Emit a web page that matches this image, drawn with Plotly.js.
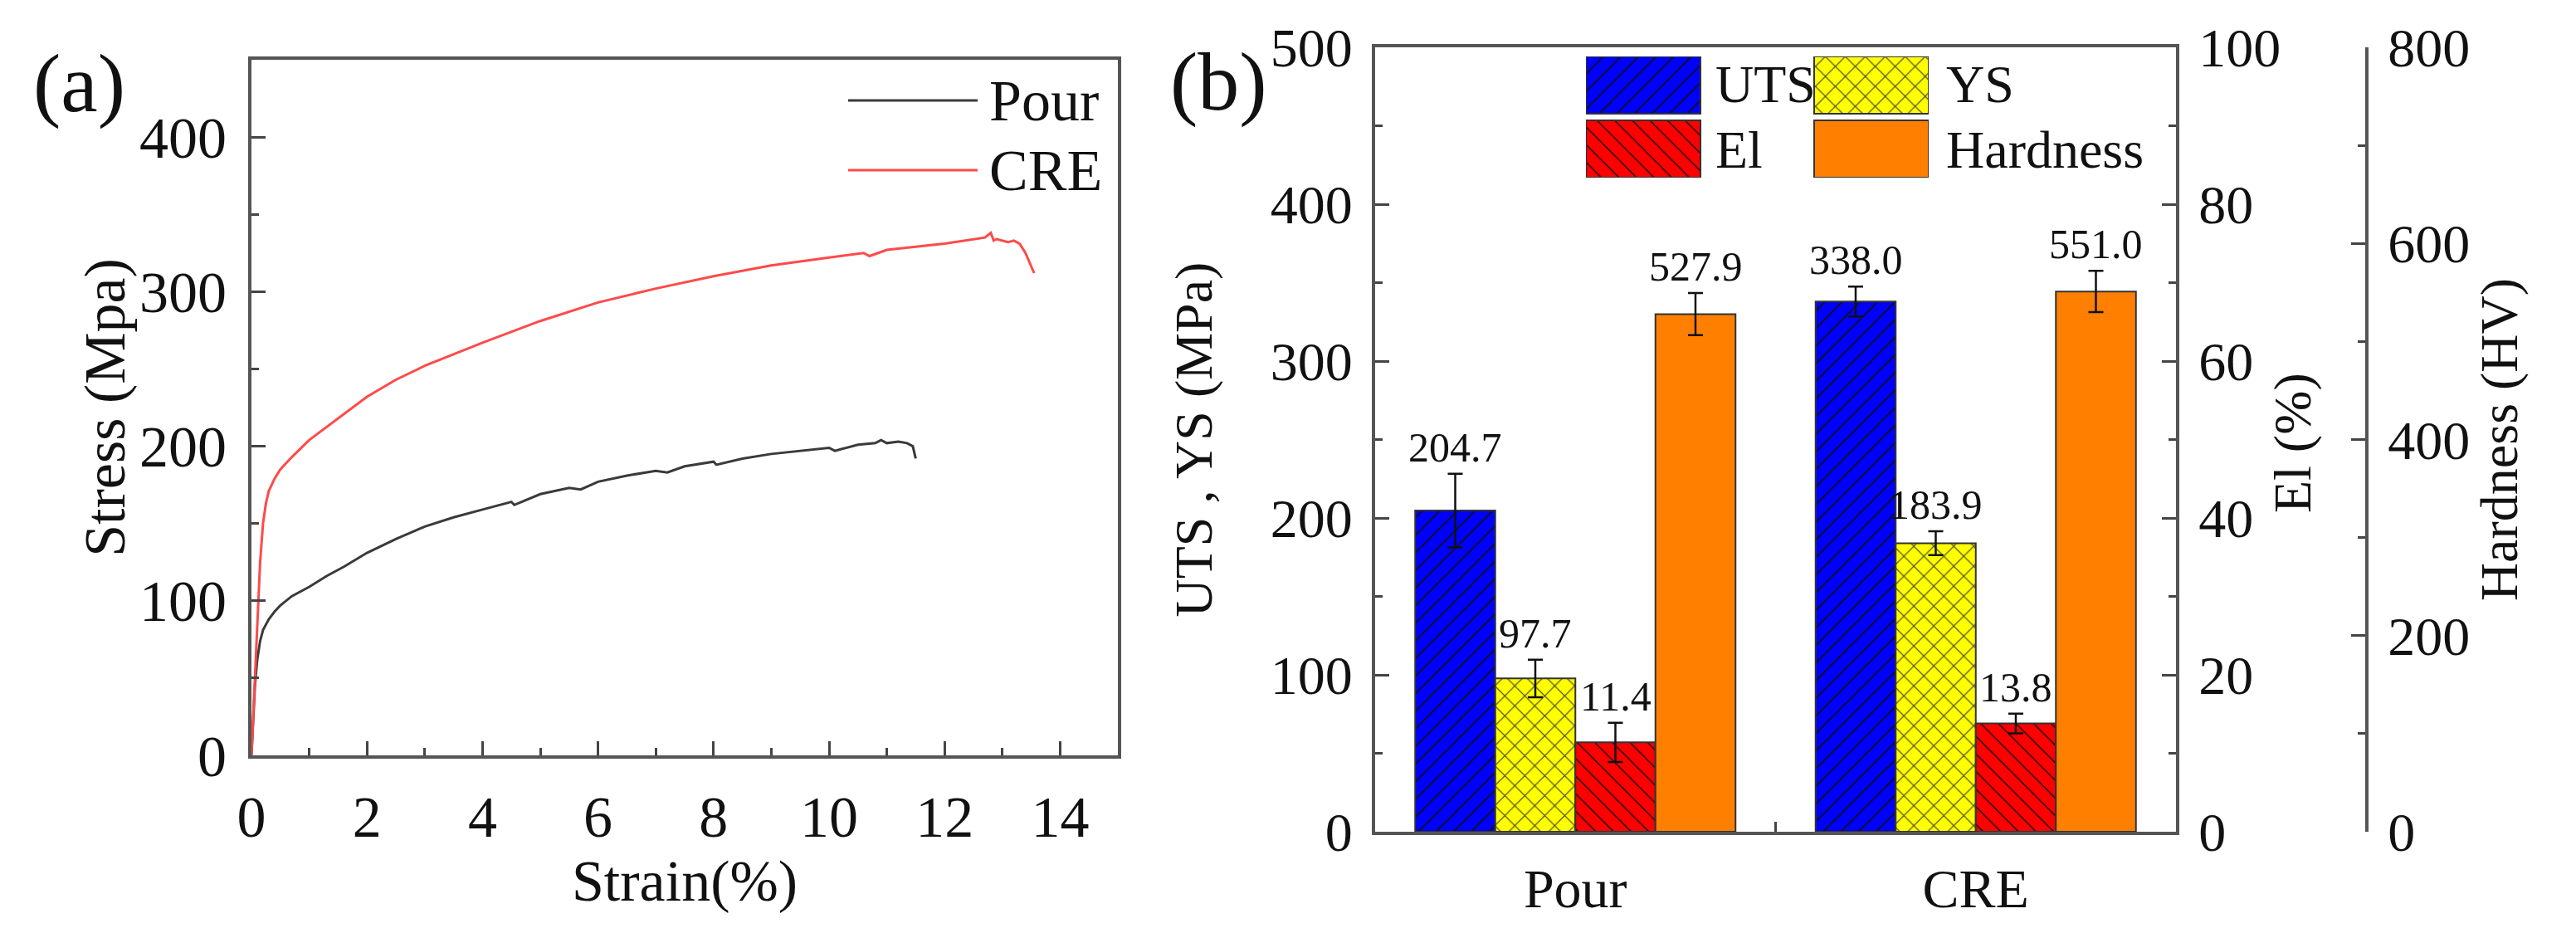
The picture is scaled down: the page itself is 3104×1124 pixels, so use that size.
<!DOCTYPE html>
<html>
<head>
<meta charset="utf-8">
<script src="https://cdn.plot.ly/plotly-3.0.1.min.js"></script>
<style>
  html, body { margin: 0; padding: 0; background: #fff; }
  #chart { width: 3104px; height: 1124px; }
</style>
</head>
<body>
<div id="chart"></div>
<script>
// (a) stress-strain curves
var strainPour = [0, 0.03, 0.06, 0.1, 0.15, 0.2, 0.3, 0.4, 0.5, 0.7, 1.0, 1.3, 1.6, 2.0, 2.5, 3.0, 3.5, 4.0, 4.5, 4.55, 5.0, 5.5, 5.7, 6.0, 6.5, 7.0, 7.2, 7.5, 8.0, 8.05, 8.5, 9.0, 9.5, 10.0, 10.1, 10.5, 10.8, 10.9, 11.0, 11.2, 11.35, 11.45, 11.5]
var stressPour = [0, 25, 45, 62, 74, 81, 88, 93, 97, 103, 109, 116, 122, 131, 140, 148, 154, 159, 164, 162, 169, 173, 172, 177, 181, 184, 183, 187, 190, 188, 192, 195, 197, 199, 197, 201, 202, 204, 202, 203, 202, 200, 192]
var strainCRE = [0, 0.05, 0.1, 0.15, 0.2, 0.25, 0.3, 0.4, 0.5, 0.7, 1.0, 1.5, 2.0, 2.5, 3.0, 4.0, 5.0, 6.0, 7.0, 8.0, 9.0, 10.0, 10.6, 10.7, 11.0, 12.0, 12.7, 12.8, 12.85, 12.9, 13.1, 13.2, 13.3, 13.4, 13.5, 13.55]
var stressCRE = [0, 40, 80, 125, 150, 163, 171, 179, 185, 193, 204, 218, 232, 243, 252, 267, 281, 293, 302, 310, 317, 322, 325, 323, 327, 331, 335, 338, 333, 334, 332, 333, 331, 325, 316, 312]

// (b) bar chart values
var groups = ['Pour', 'CRE']
var uts = [204.7, 338.0], utsErr = [23.5, 9.5]
var ys = [97.7, 183.9], ysErr = [12, 7.6]
var el = [11.4, 13.8], elErr = [2.5, 1.25]
var hv = [527.9, 551.0], hvErr = [21.5, 21]

var FONT = 'Liberation Serif, Times New Roman, serif'
var W = 3104, H = 1124
function px(x) { return x / W }
function py(y) { return 1 - y / H }

var barW = 0.2
var series = [
    {name: 'UTS', vals: uts, err: utsErr, axis: 'y2', off: -0.4,
     color: '#0000ff', pattern: {shape: '/', size: 15, solidity: 0.12, fgcolor: '#111', bgcolor: '#0000ff'}},
    {name: 'YS', vals: ys, err: ysErr, axis: 'y2', off: -0.2,
     color: '#ffff00', pattern: {shape: 'x', size: 17, solidity: 0.14, fgcolor: '#555522', bgcolor: '#ffff00'}},
    {name: 'El', vals: el, err: elErr, axis: 'y3', off: 0,
     color: '#ff0000', pattern: {shape: '\\', size: 15, solidity: 0.1, fgcolor: '#111', bgcolor: '#ff0000'}},
    {name: 'Hardness', vals: hv, err: hvErr, axis: 'y4', off: 0.2,
     color: '#ff8000', pattern: {shape: '', fgcolor: '#ff8000', bgcolor: '#ff8000'}}
]

var data = [
    {x: strainPour, y: stressPour, type: 'scatter', mode: 'lines', name: 'Pour',
     line: {color: '#3a3a3a', width: 3}, xaxis: 'x', yaxis: 'y'},
    {x: strainCRE, y: stressCRE, type: 'scatter', mode: 'lines', name: 'CRE',
     line: {color: '#ff4a4a', width: 3}, xaxis: 'x', yaxis: 'y'}
]

var annotations = []
series.forEach(function (s) {
    data.push({
        x: groups, y: s.vals, type: 'bar', name: s.name,
        xaxis: 'x2', yaxis: s.axis, offset: s.off, width: barW,
        marker: {color: s.color, pattern: s.pattern, line: {color: '#333', width: 2}},
        error_y: {type: 'data', array: s.err, visible: true, color: '#111', thickness: 2.5, width: 9}
    })
    s.vals.forEach(function (v, i) {
        annotations.push({
            xref: 'x2', yref: s.axis, x: i + s.off + barW / 2, y: v + s.err[i],
            text: v.toFixed(1), showarrow: false, xanchor: 'center', yanchor: 'bottom', yshift: 2,
            font: {family: FONT, size: 50, color: '#111'}
        })
    })
})

// legend keys of (b): 2 x 2 grid on a hidden axis
series.forEach(function (s, k) {
    var col = k % 2, row = 1 - Math.floor(k / 2)
    data.push({
        x: [col], y: [69], base: [row * 77], type: 'bar', xaxis: 'x3', yaxis: 'y5',
        offset: 0, width: 0.502, hoverinfo: 'skip',
        marker: {color: s.color, pattern: s.pattern, line: {color: '#333', width: 2}}
    })
    annotations.push({
        xref: 'paper', yref: 'paper', x: px(col ? 2343 : 2065), y: py(row ? 102 : 180),
        text: s.name, showarrow: false, xanchor: 'left', yanchor: 'middle',
        font: {family: FONT, size: 64, color: '#111'}
    })
})

// legend of (a)
var shapes = []
data.slice(0, 2).forEach(function (t, k) {
    var yy = py(121 + k * 84)
    shapes.push({type: 'line', xref: 'paper', yref: 'paper', x0: px(1022), x1: px(1178), y0: yy, y1: yy,
                 line: {color: t.line.color, width: 3}})
    annotations.push({xref: 'paper', yref: 'paper', x: px(1190), y: yy, text: t.name, showarrow: false,
                      xanchor: 'left', yanchor: 'middle', font: {family: FONT, size: 70, color: '#111'}})
})

annotations.push({xref: 'paper', yref: 'paper', x: px(95), y: py(100), text: '(a)', showarrow: false,
                  xanchor: 'center', yanchor: 'middle', font: {family: FONT, size: 100, color: '#111'}})
annotations.push({xref: 'paper', yref: 'paper', x: px(1468), y: py(98), text: '(b)', showarrow: false,
                  xanchor: 'center', yanchor: 'middle', font: {family: FONT, size: 100, color: '#111'}})
// El axis title sits closer to its tick labels than Plotly's standoff allows
annotations.push({xref: 'paper', yref: 'paper', x: px(2762), y: py(534), text: 'El (%)', showarrow: false,
                  textangle: -90, xanchor: 'center', yanchor: 'middle', font: {family: FONT, size: 64, color: '#111'}})

function axisStyle(extra) {
    var a = {
        showgrid: false, zeroline: false, showline: true, linecolor: '#555', linewidth: 4,
        ticks: 'inside', ticklen: 17, tickwidth: 3, tickcolor: '#444',
        tickfont: {family: FONT, size: 70, color: '#111'}
    }
    for (var k in extra) a[k] = extra[k]
    return a
}
function titleOf(text, size, standoff) {
    var t = {text: text, font: {family: FONT, size: size, color: '#111'}}
    if (standoff !== undefined) t.standoff = standoff
    return t
}
var minorTicks = function (d) {
    return {dtick: d, ticks: 'inside', ticklen: 9, tickwidth: 3, tickcolor: '#444'}
}
var rightFont = {family: FONT, size: 66, color: '#111'}

var layout = {
    width: W, height: H,
    margin: {l: 0, r: 0, t: 0, b: 0},
    paper_bgcolor: '#fff', plot_bgcolor: 'rgba(0,0,0,0)',
    showlegend: false, barmode: 'overlay',
    xaxis: axisStyle({domain: [px(303), px(1347)], range: [0, 15], dtick: 2, mirror: true,
        ticklabelstandoff: 10, anchor: 'y', minor: minorTicks(1),
        title: titleOf('Strain(%)', 70, 4)}),
    yaxis: axisStyle({domain: [py(910), py(72)], range: [0, 450], dtick: 100, mirror: true,
        ticklabelstandoff: 12, anchor: 'x', minor: minorTicks(50),
        title: titleOf('Stress (Mpa)', 70)}),
    xaxis2: axisStyle({domain: [px(1657), px(2622)], range: [-0.5, 1.5], type: 'category',
        anchor: 'y2', mirror: true, tickson: 'boundaries', ticklen: 12, ticklabelstandoff: 8,
        tickfont: rightFont}),
    yaxis2: axisStyle({domain: [py(1002), py(57)], range: [0, 500], dtick: 100, anchor: 'x2',
        ticklabelstandoff: 10, tickfont: rightFont, minor: minorTicks(50),
        title: titleOf('UTS , YS (MPa)', 64, 50)}),
    yaxis3: axisStyle({overlaying: 'y2', side: 'right', anchor: 'x2', range: [0, 100], dtick: 20,
        ticklabelstandoff: 10, tickfont: rightFont, minor: minorTicks(10)}),
    yaxis4: axisStyle({overlaying: 'y2', side: 'right', anchor: 'free', position: px(2852),
        range: [0, 800], dtick: 200, ticklabelstandoff: 10, tickfont: rightFont, minor: minorTicks(100),
        title: titleOf('Hardness (HV)', 64, 6)}),
    xaxis3: {domain: [px(1911), px(2324)], range: [0, 1.5018], visible: false, anchor: 'y5'},
    yaxis5: {domain: [py(214), py(68)], range: [0, 146], visible: false, anchor: 'x3'},
    annotations: annotations,
    shapes: shapes
}

Plotly.newPlot('chart', data, layout, {displayModeBar: false, staticPlot: true})
</script>
</body>
</html>
